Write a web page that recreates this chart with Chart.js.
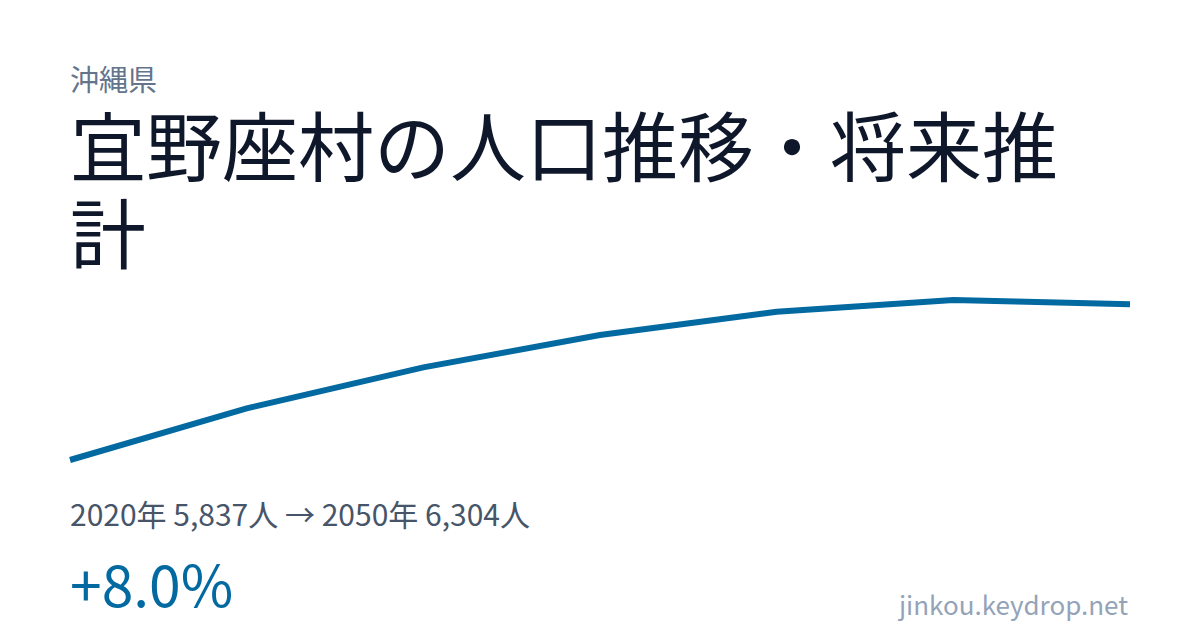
<!DOCTYPE html>
<html>
<head>
    <meta charset="utf-8">
    <title>宜野座村の人口推移・将来推計</title>
    <script src="https://cdn.jsdelivr.net/npm/chart.js"></script>
    <style>
        html, body {
            margin: 0;
            padding: 0;
            background: #ffffff;
        }
        body {
            width: 1200px;
            height: 630px;
            position: relative;
            overflow: hidden;
            font-family: "Noto Sans CJK JP", "Noto Sans", sans-serif;
        }
        .abs { position: absolute; white-space: nowrap; }
        #pref { left: 70px; top: 64px; font-size: 29px; line-height: 29px; color: #64748b; }
        #title {
            left: 70px; top: 100px; width: 1060px;
            font-size: 76px; line-height: 87px; color: #0f172a;
            white-space: normal;
        }
        #stats { left: 70px; top: 498px; font-size: 30px; line-height: 30px; color: #475569; }
        #change { left: 70px; top: 554px; font-size: 57px; line-height: 57px; color: #0369a1; }
        #site { right: 72px; top: 591px; font-size: 26px; line-height: 26px; color: #94a3b8; }
        #trend { position: absolute; left: 60px; top: 290px; }
    </style>
</head>
<body>
    <div class="abs" id="pref">沖縄県</div>
    <div class="abs" id="title">宜野座村の人口推移・将来推計</div>
    <canvas id="trend" width="1080" height="180"></canvas>
    <div class="abs" id="stats"></div>
    <div class="abs" id="change"></div>
    <div class="abs" id="site">jinkou.keydrop.net</div>
    <script>
        const years = ['2020', '2025', '2030', '2035', '2040', '2045', '2050'];
        const population = [5837, 5992, 6115, 6212, 6282, 6317, 6304];

        const first = population[0];
        const last = population[population.length - 1];
        document.getElementById('stats').textContent =
            years[0] + '年 ' + first.toLocaleString('en-US') + '人 → ' +
            years[years.length - 1] + '年 ' + last.toLocaleString('en-US') + '人';
        const pct = (last - first) / first * 100;
        document.getElementById('change').textContent = (pct >= 0 ? '+' : '') + pct.toFixed(1) + '%';

        const ctx = document.getElementById('trend').getContext('2d');
        const trendChart = new Chart(ctx, {
            type: 'line',
            data: {
                labels: years,
                datasets: [{
                    data: population,
                    borderColor: '#0369a1',
                    borderWidth: 6,
                    pointRadius: 0,
                    tension: 0,
                    fill: false,
                    clip: false
                }]
            },
            options: {
                responsive: false,
                animation: false,
                layout: { padding: 10 },
                plugins: {
                    legend: { display: false },
                    tooltip: { enabled: false }
                },
                scales: {
                    x: { display: false, offset: false },
                    y: {
                        display: false,
                        min: Math.min(...population),
                        max: Math.max(...population)
                    }
                }
            }
        });
    </script>
</body>
</html>
